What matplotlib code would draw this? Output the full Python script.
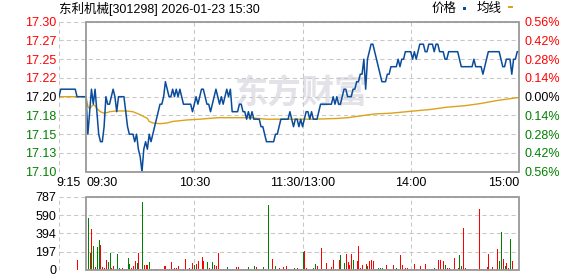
import matplotlib.pyplot as plt
import numpy as np
from matplotlib.patches import Rectangle

plt.rcParams['font.family'] = ['Liberation Sans', 'Noto Sans CJK SC']

# Minute price, 9:15-9:29 call auction, then 9:30 .. 15:00 (240 trading minutes)
pre_prices = [17.20, 17.21, 17.21, 17.21, 17.21, 17.21, 17.21, 17.21, 17.21, 17.21,
              17.20, 17.20, 17.20, 17.20, 17.20]
prices = [
    17.20, 17.15, 17.18, 17.21, 17.19, 17.21, 17.18, 17.15, 17.14, 17.14,
    17.16, 17.20, 17.19, 17.19, 17.20, 17.21, 17.20, 17.18, 17.20, 17.20,
    17.20, 17.20, 17.18, 17.16, 17.15, 17.15, 17.15, 17.14, 17.15, 17.13,
    17.12, 17.10, 17.13, 17.14, 17.13, 17.15, 17.14, 17.15, 17.16, 17.17,
    17.18, 17.19, 17.19, 17.20, 17.22, 17.21, 17.20, 17.20, 17.21, 17.20,
    17.21, 17.20, 17.21, 17.20, 17.19, 17.19, 17.19, 17.19, 17.19, 17.18,
    17.19, 17.20, 17.19, 17.20, 17.21, 17.21, 17.20, 17.19, 17.19, 17.18,
    17.19, 17.20, 17.21, 17.20, 17.19, 17.20, 17.19, 17.20, 17.21, 17.20,
    17.21, 17.18, 17.18, 17.18, 17.18, 17.19, 17.19, 17.18, 17.18, 17.17,
    17.18, 17.17, 17.18, 17.17, 17.17, 17.17, 17.17, 17.16, 17.16, 17.15,
    17.14, 17.14, 17.14, 17.14, 17.14, 17.15, 17.15, 17.16, 17.17, 17.17,
    17.17, 17.17, 17.17, 17.18, 17.17, 17.16, 17.17, 17.17, 17.16, 17.17,
    17.16, 17.17, 17.18, 17.18, 17.17, 17.18, 17.17, 17.17, 17.17, 17.18,
    17.19, 17.19, 17.19, 17.19, 17.19, 17.19, 17.19, 17.20, 17.19, 17.20,
    17.19, 17.19, 17.20, 17.21, 17.21, 17.20, 17.20, 17.20, 17.21, 17.21,
    17.22, 17.22, 17.23, 17.23, 17.25, 17.21, 17.25, 17.26, 17.27, 17.27,
    17.26, 17.25, 17.24, 17.23, 17.22, 17.22, 17.22, 17.23, 17.23, 17.24,
    17.24, 17.24, 17.24, 17.25, 17.24, 17.25, 17.25, 17.26, 17.26, 17.26,
    17.26, 17.25, 17.26, 17.25, 17.26, 17.27, 17.27, 17.27, 17.26, 17.26,
    17.27, 17.27, 17.27, 17.26, 17.27, 17.27, 17.26, 17.26, 17.26, 17.25,
    17.25, 17.26, 17.26, 17.26, 17.26, 17.26, 17.26, 17.25, 17.24, 17.24,
    17.24, 17.24, 17.24, 17.24, 17.24, 17.25, 17.24, 17.24, 17.24, 17.24,
    17.23, 17.24, 17.25, 17.26, 17.26, 17.26, 17.26, 17.26, 17.26, 17.26,
    17.25, 17.24, 17.24, 17.25, 17.25, 17.25, 17.23, 17.25, 17.25, 17.26,
    17.26,
]

# Average price line, read at a few minutes
avg_minutes = [-15, 0, 1, 2, 3, 4, 5, 6, 8, 10, 12, 13, 17, 22, 26, 28, 30, 34, 35, 37,
               41, 45, 48, 56, 63, 73, 82, 91, 100, 119, 126, 139, 145, 154, 160, 169,
               182, 191, 200, 210, 219, 228, 237, 240]
avg_prices = [17.200, 17.200, 17.187, 17.184, 17.187, 17.189, 17.188, 17.184, 17.180,
              17.178, 17.179, 17.180, 17.181, 17.181, 17.180, 17.178, 17.176, 17.171,
              17.167, 17.165, 17.164, 17.165, 17.167, 17.169, 17.170, 17.172, 17.172,
              17.172, 17.170, 17.170, 17.170, 17.171, 17.172, 17.175, 17.177, 17.178,
              17.181, 17.183, 17.186, 17.188, 17.191, 17.195, 17.198, 17.199]

# Volume (lots), minutes 1..240, plus the 9:25 auction bar
auction_minute = -5
auction_vol = 107
volumes = [
    562, 182, 444, 258, 36, 247, 322, 268, 36, 18,
    107, 89, 182, 18, 43, 11, 172, 21, 11, 21,
    11, 11, 129, 64, 21, 43, 97, 75, 182, 11,
    726, 54, 54, 54, 86, 11, 11, 11, 11, 11,
    11, 11, 43, 43, 11, 11, 86, 11, 21, 21,
    43, 11, 11, 11, 118, 11, 21, 11, 75, 54,
    64, 97, 11, 140, 97, 11, 86, 21, 11, 86,
    54, 43, 182, 11, 11, 11, 11, 32, 11, 11,
    11, 5, 32, 32, 5, 11, 11, 11, 11, 32,
    11, 5, 43, 32, 11, 5, 11, 32, 11, 5,
    698, 11, 118, 11, 43, 11, 21, 11, 32, 11,
    43, 11, 11, 5, 21, 11, 21, 11, 11, 193,
    204, 21, 11, 5, 11, 21, 64, 43, 11, 236,
    11, 11, 75, 11, 11, 32, 107, 11, 5, 107,
    161, 11, 75, 172, 86, 54, 172, 107, 11, 97,
    258, 21, 54, 11, 64, 43, 97, 107, 97, 11,
    11, 21, 21, 21, 5, 54, 11, 11, 5, 54,
    11, 21, 11, 161, 54, 11, 21, 21, 11, 11,
    11, 64, 11, 5, 43, 11, 11, 64, 11, 11,
    11, 11, 21, 11, 107, 107, 11, 97, 54, 21,
    21, 11, 5, 129, 5, 21, 161, 43, 451, 21,
    11, 11, 11, 5, 11, 11, 5, 655, 11, 11,
    5, 32, 172, 11, 32, 5, 11, 225, 97, 408,
    118, 43, 75, 21, 333, 97, 5, 5, 5, 172,
]
# r = up tick, g = down tick
sides = ("ggrgrggrrr" "rggrrrggrr" "rrggrrrgrr" "grrrgrrrgr" "grrrgrrgrr" "rgrrrrrrrg"
         "rrrrrrgrrg" "rrrrrrrgrr" "rrrrrrrgrg" "rrgrgrggrr" "grrrgrrrrr" "rrrrgrrrrg"
         "rrrrrggrrr" "rrrrrrrrrr" "grgrrrrgrr" "rrrrrgrrrg" "ggggrrrrrr" "rgrrrrrrrr"
         "rrrrrrrrgg" "rrgrrrgrgr" "rrrrrrggrr" "rrrrrgrrrg" "rrrrrrrrgg" "rgrrgrrrrr")

price_levels = [17.10, 17.125, 17.15, 17.175, 17.20, 17.225, 17.25, 17.275, 17.30]
price_labels = ['17.10', '17.13', '17.15', '17.18', '17.20', '17.22', '17.25', '17.27', '17.30']
pct_labels = ['0.56%', '0.42%', '0.28%', '0.14%', '0.00%', '0.14%', '0.28%', '0.42%', '0.56%']
vol_levels = [0, 197, 394, 590, 787]
time_ticks = [-15, 0, 60, 120, 180, 240]
time_labels = ['9:15', '09:30', '10:30', '11:30/13:00', '14:00', '15:00']

RED = '#ff0000'
GREEN = '#008000'
BLUE = '#0a4c9c'
ORANGE = '#dca21c'
GRID = '#c8c8c8'
FRAME = '#999999'

W, H = 578, 276
fig = plt.figure(figsize=(W / 100, H / 100), dpi=100)
ax = fig.add_axes([59 / W, 1 - 171.7 / H, 460 / W, 150 / H])
axv = fig.add_axes([59 / W, 1 - 270 / H, 460 / W, 73.3 / H])

minutes = np.arange(-15, 241)
all_prices = pre_prices + prices


def grid(a, levels, lo, hi):
    for lv in levels:
        a.plot([-15, 240], [lv, lv], color=GRID, lw=0.75, ls=(0, (4, 3)), zorder=1)
    for t in [-15, 60, 120, 180]:
        a.plot([t, t], [lo, hi], color=GRID, lw=0.75, ls=(0, (4, 3)), zorder=1)
    a.add_patch(Rectangle((0, lo), 240, hi - lo, fill=False, edgecolor=FRAME,
                          lw=1.3, clip_on=False, zorder=5))
    a.set_xlim(-15, 240)
    a.set_ylim(lo, hi)
    for s in a.spines.values():
        s.set_visible(False)
    a.set_xticks([])


# price panel
grid(ax, price_levels, 17.10, 17.30)
ax.text(119, 17.204, '东方财富', fontsize=24, fontweight='bold', color='#e2e2e8',
        ha='center', va='center', family=['Noto Sans CJK SC'], zorder=0)
ax.plot(avg_minutes, avg_prices, color=ORANGE, lw=1.0, zorder=3)
ax.plot(minutes, all_prices, color=BLUE, lw=1.1, zorder=4)

ax.set_yticks(price_levels)
ax.set_yticklabels(price_labels)
ax.tick_params(axis='y', length=0, pad=2, labelsize=9)
for lbl, lv in zip(ax.get_yticklabels(), price_levels):
    lbl.set_color(RED if lv > 17.2 else (GREEN if lv < 17.2 else 'black'))

ax2 = ax.twinx()
ax2.set_ylim(17.10, 17.30)
ax2.set_yticks(price_levels)
ax2.set_yticklabels(pct_labels[::-1])
ax2.tick_params(axis='y', length=0, pad=4, labelsize=9)
for s in ax2.spines.values():
    s.set_visible(False)
for lbl, lv in zip(ax2.get_yticklabels(), price_levels):
    lbl.set_color(RED if lv > 17.2 else (GREEN if lv < 17.2 else 'black'))

trans = ax.get_xaxis_transform()
aligns = ['left', 'left', 'center', 'center', 'center', 'right']
for t, lab, ha in zip(time_ticks, time_labels, aligns):
    dx = -1.2 if t == -15 else 0
    ax.text(t + dx, -0.075, lab, transform=trans, ha=ha, va='center', fontsize=9)

# volume panel
grid(axv, vol_levels, 0, 787)
bar_minutes = np.arange(1, 241)
bar_colors = [RED if c == 'r' else GREEN for c in sides]
axv.vlines(bar_minutes, 0, volumes, colors=bar_colors, lw=0.72, zorder=3, antialiased=False)
axv.vlines([auction_minute], 0, [auction_vol], colors=RED, lw=0.72, zorder=3, antialiased=False)
axv.set_yticks(vol_levels)
axv.set_yticklabels([str(v) for v in vol_levels])
axv.tick_params(axis='y', length=0, pad=2, labelsize=9)

# header
fig.text(59 / W, 1 - 8.5 / H, '东利机械[301298] 2026-01-23 15:30', fontsize=9,
         ha='left', va='center')
fig.text(432 / W, 1 - 9 / H, '价格', fontsize=9, ha='left', va='center')
fig.text(477 / W, 1 - 9 / H, '均线', fontsize=9, ha='left', va='center')
fig.add_artist(Rectangle((462.5 / W, 1 - 10 / H), 3.5 / W, 2.5 / H,
                         transform=fig.transFigure, color=BLUE, lw=0))
fig.add_artist(Rectangle((508 / W, 1 - 8 / H), 4.5 / W, 2 / H,
                         transform=fig.transFigure, color=ORANGE, lw=0))

fig.savefig('out.png', dpi=100)
